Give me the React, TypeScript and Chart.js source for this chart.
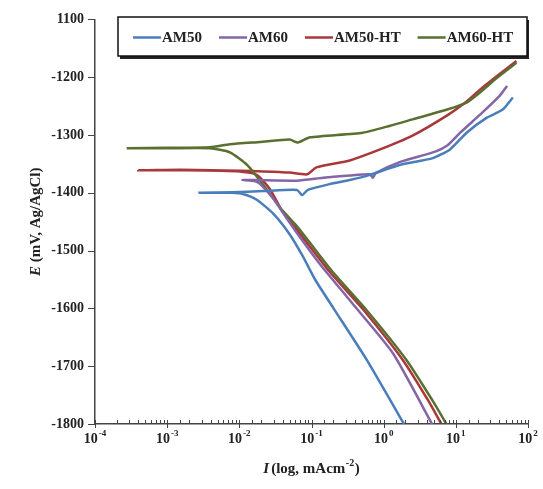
import React, { useEffect, useRef } from "react";
import { Chart, registerables } from "chart.js";

Chart.register(...registerables);

// ---- Data (current density in mA/cm², potential in mV vs Ag/AgCl) ----
const seriesNames = ["AM50", "AM60", "AM50-HT", "AM60-HT"];
const seriesColors = ["#4a7ebb", "#8466a6", "#a8383a", "#5a7030"];

const am50Current = [1.91, 0.589, 0.2, 0.112, 0.076, 0.05, 0.0295, 0.0174, 0.0112, 0.0079, 0.0028, 0.0079, 0.0214, 0.063, 0.074, 0.089, 0.178, 0.339, 0.646, 1.66, 4.79, 8.3, 14.1, 26.9, 44.7, 61.7];
const am50Potential = [-1800, -1690, -1599, -1550, -1510, -1472, -1436, -1412, -1402, -1400, -1400, -1399, -1397, -1395, -1404, -1395, -1385, -1378, -1369, -1352, -1340, -1325, -1296, -1270, -1256, -1235];

const am60Current = [4.68, 1.35, 0.372, 0.132, 0.076, 0.0457, 0.0295, 0.0195, 0.0166, 0.011, 0.0166, 0.063, 0.145, 0.339, 0.646, 0.708, 0.776, 1.66, 4.79, 7.6, 11.5, 23.4, 40.7, 51.3];
const am60Potential = [-1800, -1678, -1592, -1524, -1484, -1445, -1410, -1385, -1380, -1378, -1378, -1379, -1374, -1370, -1368, -1374, -1366, -1347, -1330, -1318, -1296, -1261, -1232, -1215];

const am50htCurrent = [6.31, 4.17, 1.86, 0.537, 0.182, 0.102, 0.0575, 0.0398, 0.0263, 0.0174, 0.0102, 0.00158, 0.000398, 0.00158, 0.0102, 0.0214, 0.05, 0.087, 0.117, 0.339, 0.891, 2.51, 7.59, 14.1, 21.4, 37.2, 69.2];
const am50htPotential = [-1800, -1760, -1690, -1604, -1538, -1498, -1458, -1433, -1393, -1369, -1363, -1361, -1361, -1360, -1362, -1363, -1365, -1368, -1356, -1344, -1325, -1301, -1266, -1242, -1222, -1198, -1172];

const am60htCurrent = [7.41, 4.79, 2.09, 0.589, 0.2, 0.112, 0.063, 0.0363, 0.0214, 0.0129, 0.0074, 0.0039, 0.001, 0.000275, 0.001, 0.0039, 0.0074, 0.0195, 0.05, 0.0646, 0.0955, 0.513, 1.23, 2.51, 7.59, 14.1, 21.4, 37.2, 69.2];
const am60htPotential = [-1800, -1760, -1690, -1604, -1538, -1498, -1458, -1425, -1386, -1352, -1330, -1323, -1323, -1323, -1322, -1321, -1316, -1312, -1308, -1313, -1304, -1296, -1284, -1273, -1256, -1244, -1227, -1201, -1175];

const xTickValues = [1e-4, 1e-3, 1e-2, 1e-1, 1, 10, 100];
const xTickBase = "10";
const xTickExponents = ["-4", "-3", "-2", "-1", "0", "1", "2"];
const yTickValues = [-1800, -1700, -1600, -1500, -1400, -1300, -1200, -1100];
const yTickLabels = ["-1800", "-1700", "-1600", "-1500", "-1400", "-1300", "-1200", "1100"];

const yTitleItalic = "E";
const yTitleRest = " (mV, Ag/AgCl)";
const xTitleItalic = "I";
const xTitleRest = "(log, mAcm";
const xTitleSup = "-2";
const xTitleEnd = ")";

const FONT = '"Liberation Serif", "Times New Roman", serif';

function toPoints(xs: number[], ys: number[]) {
  return xs.map((x, i) => ({ x, y: ys[i] }));
}

function isDecade(v: number) {
  const l = Math.log10(v);
  return Math.abs(l - Math.round(l)) < 1e-6;
}

const decorPlugin = {
  id: "decor",
  afterDraw(chart: any) {
    const ctx: CanvasRenderingContext2D = chart.ctx;
    const { left, right, top, bottom } = chart.chartArea;
    const xs = chart.scales.x;
    const ys = chart.scales.y;
    ctx.save();
    ctx.strokeStyle = "#444";
    ctx.lineWidth = 1;
    // x ticks (minor inward, major crossing)
    xs.ticks.forEach((t: any) => {
      const px = Math.round(xs.getPixelForValue(t.value)) + 0.5;
      const major = isDecade(t.value);
      ctx.beginPath();
      ctx.moveTo(px, bottom + (major ? 4 : 0));
      ctx.lineTo(px, bottom - 4);
      ctx.stroke();
    });
    // y ticks (outward)
    ys.ticks.forEach((t: any) => {
      const py = Math.round(ys.getPixelForValue(t.value)) + 0.5;
      ctx.beginPath();
      ctx.moveTo(left - 7, py);
      ctx.lineTo(left, py);
      ctx.stroke();
    });

    ctx.fillStyle = "#222";
    ctx.textBaseline = "middle";
    ctx.textAlign = "left";

    // x tick labels: 10 with superscript exponent
    const fBase = "bold 14px " + FONT;
    const fExp = "bold 9px " + FONT;
    xTickValues.forEach((v, i) => {
      const px = xs.getPixelForValue(v);
      ctx.font = fBase;
      const wb = ctx.measureText(xTickBase).width;
      ctx.font = fExp;
      const we = ctx.measureText(xTickExponents[i]).width;
      const x0 = px - (wb + we + 1) / 2;
      ctx.font = fBase;
      ctx.fillText(xTickBase, x0, 439);
      ctx.font = fExp;
      ctx.fillText(xTickExponents[i], x0 + wb + 1, 434);
    });

    // y-axis title
    const fi = "italic bold 15px " + FONT;
    const fb = "bold 15px " + FONT;
    ctx.save();
    ctx.translate(36, (top + bottom) / 2);
    ctx.rotate(-Math.PI / 2);
    ctx.font = fi;
    const wE = ctx.measureText(yTitleItalic).width;
    ctx.font = fb;
    const wR = ctx.measureText(yTitleRest).width;
    let sx = -(wE + wR) / 2;
    ctx.font = fi;
    ctx.fillText(yTitleItalic, sx, 0);
    ctx.font = fb;
    ctx.fillText(yTitleRest, sx + wE, 0);
    ctx.restore();

    // x-axis title
    ctx.font = fi;
    const wI = ctx.measureText(xTitleItalic).width + 2;
    ctx.font = fb;
    const wX = ctx.measureText(xTitleRest).width;
    const wEnd = ctx.measureText(xTitleEnd).width;
    ctx.font = "bold 10px " + FONT;
    const wS = ctx.measureText(xTitleSup).width + 1;
    sx = (left + right) / 2 - (wI + wX + wS + wEnd) / 2;
    ctx.font = fi;
    ctx.fillText(xTitleItalic, sx, 469);
    ctx.font = fb;
    ctx.fillText(xTitleRest, sx + wI, 469);
    ctx.font = "bold 10px " + FONT;
    ctx.fillText(xTitleSup, sx + wI + wX + 0.5, 463);
    ctx.font = fb;
    ctx.fillText(xTitleEnd, sx + wI + wX + wS, 469);

    // legend box
    const bx = 118, by = 17, bw = 409, bh = 39;
    ctx.fillStyle = "#222";
    ctx.fillRect(bx + 2, by + 3, bw, bh);
    ctx.fillStyle = "#fff";
    ctx.fillRect(bx, by, bw, bh);
    ctx.strokeStyle = "#111";
    ctx.lineWidth = 1.5;
    ctx.strokeRect(bx, by, bw, bh);
    ctx.font = "bold 15px " + FONT;
    let lx = bx + 15;
    const ly = by + bh / 2 + 1;
    seriesNames.forEach((name, i) => {
      ctx.strokeStyle = seriesColors[i];
      ctx.lineWidth = 2.5;
      ctx.beginPath();
      ctx.moveTo(lx, ly);
      ctx.lineTo(lx + 28, ly);
      ctx.stroke();
      ctx.fillStyle = "#222";
      ctx.fillText(name, lx + 29, ly + 0.5);
      lx += 29 + ctx.measureText(name).width + 17;
    });
    ctx.restore();
  },
};

export default function App() {
  const ref = useRef<HTMLCanvasElement | null>(null);
  useEffect(() => {
    if (!ref.current) return;
    const seriesData = [
      toPoints(am50Current, am50Potential),
      toPoints(am60Current, am60Potential),
      toPoints(am50htCurrent, am50htPotential),
      toPoints(am60htCurrent, am60htPotential),
    ];
    const orders = [1, 2, 4, 3];
    const chart = new Chart(ref.current, {
      type: "line",
      data: {
        datasets: seriesNames.map((name, i) => ({
          label: name,
          data: seriesData[i],
          borderColor: seriesColors[i],
          backgroundColor: seriesColors[i],
          borderWidth: 2.5,
          pointRadius: 0,
          tension: 0.2,
          fill: false,
          order: orders[i],
        })),
      },
      options: {
        animation: false,
        responsive: true,
        maintainAspectRatio: false,
        layout: { padding: { left: 0, top: 16, right: 15, bottom: 0 } },
        plugins: { legend: { display: false }, tooltip: { enabled: false }, title: { display: false } },
        scales: {
          x: {
            type: "logarithmic",
            position: "bottom",
            min: 1e-4,
            max: 100,
            grid: { display: true, drawOnChartArea: false, drawTicks: false },
            border: { display: true, color: "#444", width: 1.5 },
            ticks: { display: false, autoSkip: false, maxRotation: 0 },
            afterFit: (s: any) => {
              s.height = 65;
            },
          },
          y: {
            type: "linear",
            position: "left",
            min: -1800,
            max: -1100,
            grid: { display: true, drawOnChartArea: false, drawTicks: false },
            border: { display: true, color: "#444", width: 1.5 },
            ticks: {
              stepSize: 100,
              padding: 11,
              color: "#222",
              font: { family: FONT, weight: "bold", size: 14 },
              callback: (v: any) => {
                const idx = yTickValues.indexOf(Number(v));
                return idx >= 0 ? yTickLabels[idx] : "";
              },
            },
            afterFit: (s: any) => {
              s.width = 95;
            },
          },
        },
      },
      plugins: [decorPlugin],
    } as any);
    return () => chart.destroy();
  }, []);
  return (
    <div style={{ position: "fixed", left: 0, top: 0, width: 543, height: 489, background: "#fff" }}>
      <canvas ref={ref} />
    </div>
  );
}
